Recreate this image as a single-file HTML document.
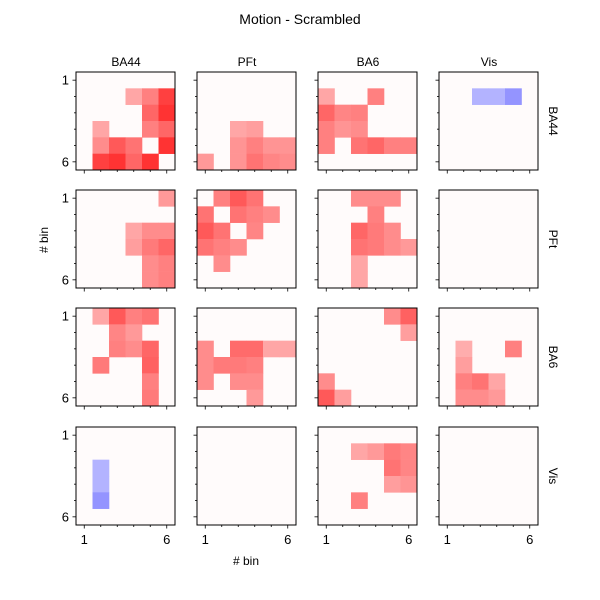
<!DOCTYPE html>
<html><head><meta charset="utf-8"><style>
body{margin:0;background:#fff;}
svg{display:block;font-family:"Liberation Sans","DejaVu Sans",sans-serif;}
</style></head><body>
<svg id="chart" width="600" height="600">
<text x="300" y="24" text-anchor="middle" font-size="14">Motion - Scrambled</text>
<text x="126" y="66" text-anchor="middle" font-size="12">BA44</text>
<text x="247" y="66" text-anchor="middle" font-size="12">PFt</text>
<text x="368" y="66" text-anchor="middle" font-size="12">BA6</text>
<text x="489" y="66" text-anchor="middle" font-size="12">Vis</text>
<text transform="translate(549,121) rotate(90)" text-anchor="middle" font-size="12">BA44</text>
<text transform="translate(549,239) rotate(90)" text-anchor="middle" font-size="12">PFt</text>
<text transform="translate(549,357) rotate(90)" text-anchor="middle" font-size="12">BA6</text>
<text transform="translate(549,476) rotate(90)" text-anchor="middle" font-size="12">Vis</text>
<text transform="translate(48,240) rotate(-90)" text-anchor="middle" font-size="12"># bin</text>
<text x="246" y="565" text-anchor="middle" font-size="12"># bin</text>
</svg>
<script>
const regions = ["BA44","PFt","BA6","Vis"];
const binTicks = [1,6];
const nBins = 6;
const m_BA44_BA44 = [[0,0,0,0,0,0],[0,0,0,0.35,0.5,0.75],[0,0,0,0,0.6,0.8],[0,0.35,0,0,0.5,0.6],[0,0.45,0.65,0.55,0,0.8],[0,0.75,0.8,0.6,0.8,0]];
const m_BA44_PFt = [[0,0,0,0,0,0],[0,0,0,0,0,0],[0,0,0,0,0,0],[0,0,0.35,0.38,0,0],[0,0,0.42,0.5,0.42,0.42],[0.4,0,0.42,0.55,0.48,0.45]];
const m_BA44_BA6 = [[0,0,0,0,0,0],[0.35,0,0,0.5,0,0],[0.6,0.48,0.5,0,0,0],[0.5,0.42,0.45,0,0,0],[0.5,0,0.55,0.6,0.5,0.5],[0,0,0,0,0,0]];
const m_BA44_Vis = [[0,0,0,0,0,0],[0,0,-0.3,-0.3,-0.42,0],[0,0,0,0,0,0],[0,0,0,0,0,0],[0,0,0,0,0,0],[0,0,0,0,0,0]];
const m_PFt_BA44 = [[0,0,0,0,0,0.4],[0,0,0,0,0,0],[0,0,0,0.35,0.45,0.45],[0,0,0,0.38,0.52,0.6],[0,0,0,0,0.45,0.5],[0,0,0,0,0.45,0.5]];
const m_PFt_PFt = [[0,0.5,0.65,0.55,0,0],[0.55,0,0.55,0.5,0.45,0],[0.65,0.55,0,0.48,0,0],[0.55,0.5,0.45,0,0,0],[0,0.45,0,0,0,0],[0,0,0,0,0,0]];
const m_PFt_BA6 = [[0,0,0.45,0.45,0.45,0],[0,0,0,0.5,0,0],[0,0,0.6,0.52,0.45,0],[0,0,0.55,0.52,0.45,0.4],[0,0,0.35,0,0,0],[0,0,0.35,0,0,0]];
const m_PFt_Vis = [[0,0,0,0,0,0],[0,0,0,0,0,0],[0,0,0,0,0,0],[0,0,0,0,0,0],[0,0,0,0,0,0],[0,0,0,0,0,0]];
const m_BA6_BA44 = [[0,0.35,0.65,0.5,0.55,0],[0,0,0.48,0.4,0,0],[0,0,0.5,0.45,0.6,0],[0,0.52,0,0,0.62,0],[0,0,0,0,0.5,0],[0,0,0,0,0.52,0]];
const m_BA6_PFt = [[0,0,0,0,0,0],[0,0,0,0,0,0],[0.45,0,0.58,0.58,0.35,0.35],[0.45,0.52,0.52,0.5,0,0],[0.45,0,0.45,0.45,0,0],[0,0,0,0.4,0,0]];
const m_BA6_BA6 = [[0,0,0,0,0.45,0.62],[0,0,0,0,0,0.38],[0,0,0,0,0,0],[0,0,0,0,0,0],[0.45,0,0,0,0,0],[0.65,0.38,0,0,0,0]];
const m_BA6_Vis = [[0,0,0,0,0,0],[0,0,0,0,0,0],[0,0.32,0,0,0.5,0],[0,0.38,0,0,0,0],[0,0.5,0.55,0.35,0,0],[0,0.45,0.45,0.4,0,0]];
const m_Vis_BA44 = [[0,0,0,0,0,0],[0,0,0,0,0,0],[0,-0.3,0,0,0,0],[0,-0.3,0,0,0,0],[0,-0.42,0,0,0,0],[0,0,0,0,0,0]];
const m_Vis_PFt = [[0,0,0,0,0,0],[0,0,0,0,0,0],[0,0,0,0,0,0],[0,0,0,0,0,0],[0,0,0,0,0,0],[0,0,0,0,0,0]];
const m_Vis_BA6 = [[0,0,0,0,0,0],[0,0,0.35,0.4,0.52,0.48],[0,0,0,0,0.55,0.48],[0,0,0,0,0.38,0.42],[0,0,0.5,0,0,0],[0,0,0,0,0,0]];
const m_Vis_Vis = [[0,0,0,0,0,0],[0,0,0,0,0,0],[0,0,0,0,0,0],[0,0,0,0,0,0],[0,0,0,0,0,0],[0,0,0,0,0,0]];
const matrices = [
 [m_BA44_BA44,m_BA44_PFt,m_BA44_BA6,m_BA44_Vis],
 [m_PFt_BA44,m_PFt_PFt,m_PFt_BA6,m_PFt_Vis],
 [m_BA6_BA44,m_BA6_PFt,m_BA6_BA6,m_BA6_Vis],
 [m_Vis_BA44,m_Vis_PFt,m_Vis_BA6,m_Vis_Vis]
];

const NS = "http://www.w3.org/2000/svg";
const svg = document.getElementById("chart");
const panelLeft = [76,197,318,439], panelTop = [72,190,308,427], PW = 99, PH = 98;
function mk(tag, attrs){const e=document.createElementNS(NS,tag);for(const k in attrs)e.setAttribute(k,attrs[k]);svg.appendChild(e);return e;}
function color(v){
  if(Math.abs(v)<0.01) return "#fffbfb";
  const t=Math.round(255*(1-Math.min(1,Math.abs(v))));
  return v>0?`rgb(255,${t},${t})`:`rgb(${t},${t},255)`;
}
// edge position of bin boundary e (0..6)
function xEdge(c, e){return panelLeft[c] + e*PW/nBins;}
function yEdge(r, e){return panelTop[r] + e*PH/nBins;}
for(let r=0;r<4;r++){
  for(let c=0;c<4;c++){
    const L=panelLeft[c], T=panelTop[r];
    const bg=mk("rect",{x:L,y:T,width:PW,height:PH,fill:"#fffbfb"});
    
    
    const M=matrices[r][c];
    for(let i=0;i<nBins;i++)for(let j=0;j<nBins;j++){
      const v=M[i][j];
      if(Math.abs(v)<0.01) continue;
      const x0=xEdge(c,j), x1=xEdge(c,j+1), y0=yEdge(r,i), y1=yEdge(r,i+1);
      const cell=mk("rect",{x:x0,y:y0,width:x1-x0+0.3,height:y1-y0+0.3,fill:color(v)});
      
      
    }
    const fr=mk("rect",{x:L,y:T,width:PW,height:PH,fill:"none",stroke:"#000","stroke-width":1});
    
    
    for(let b=1;b<=nBins;b++){
      const major=binTicks.includes(b);
      const len=major?3.5:2;
      const tx=(xEdge(c,b-1)+xEdge(c,b))/2, ty=(yEdge(r,b-1)+yEdge(r,b))/2;
      const t1=mk("line",{x1:tx,x2:tx,y1:T+PH,y2:T+PH+len,stroke:"#000","stroke-width":0.8});
      
      
      const t2=mk("line",{x1:L,x2:L-len,y1:ty,y2:ty,stroke:"#000","stroke-width":0.8});
      
      
      if(major && c===0){
        const lab=mk("text",{x:L-7,y:ty+4.5,"text-anchor":"end","font-size":13});
        lab.textContent=b;
        
        
      }
      if(major && r===3){
        const lab=mk("text",{x:tx,y:T+PH+19,"text-anchor":"middle","font-size":13});
        lab.textContent=b;
        
        
      }
    }
  }
}
</script>
</body></html>
